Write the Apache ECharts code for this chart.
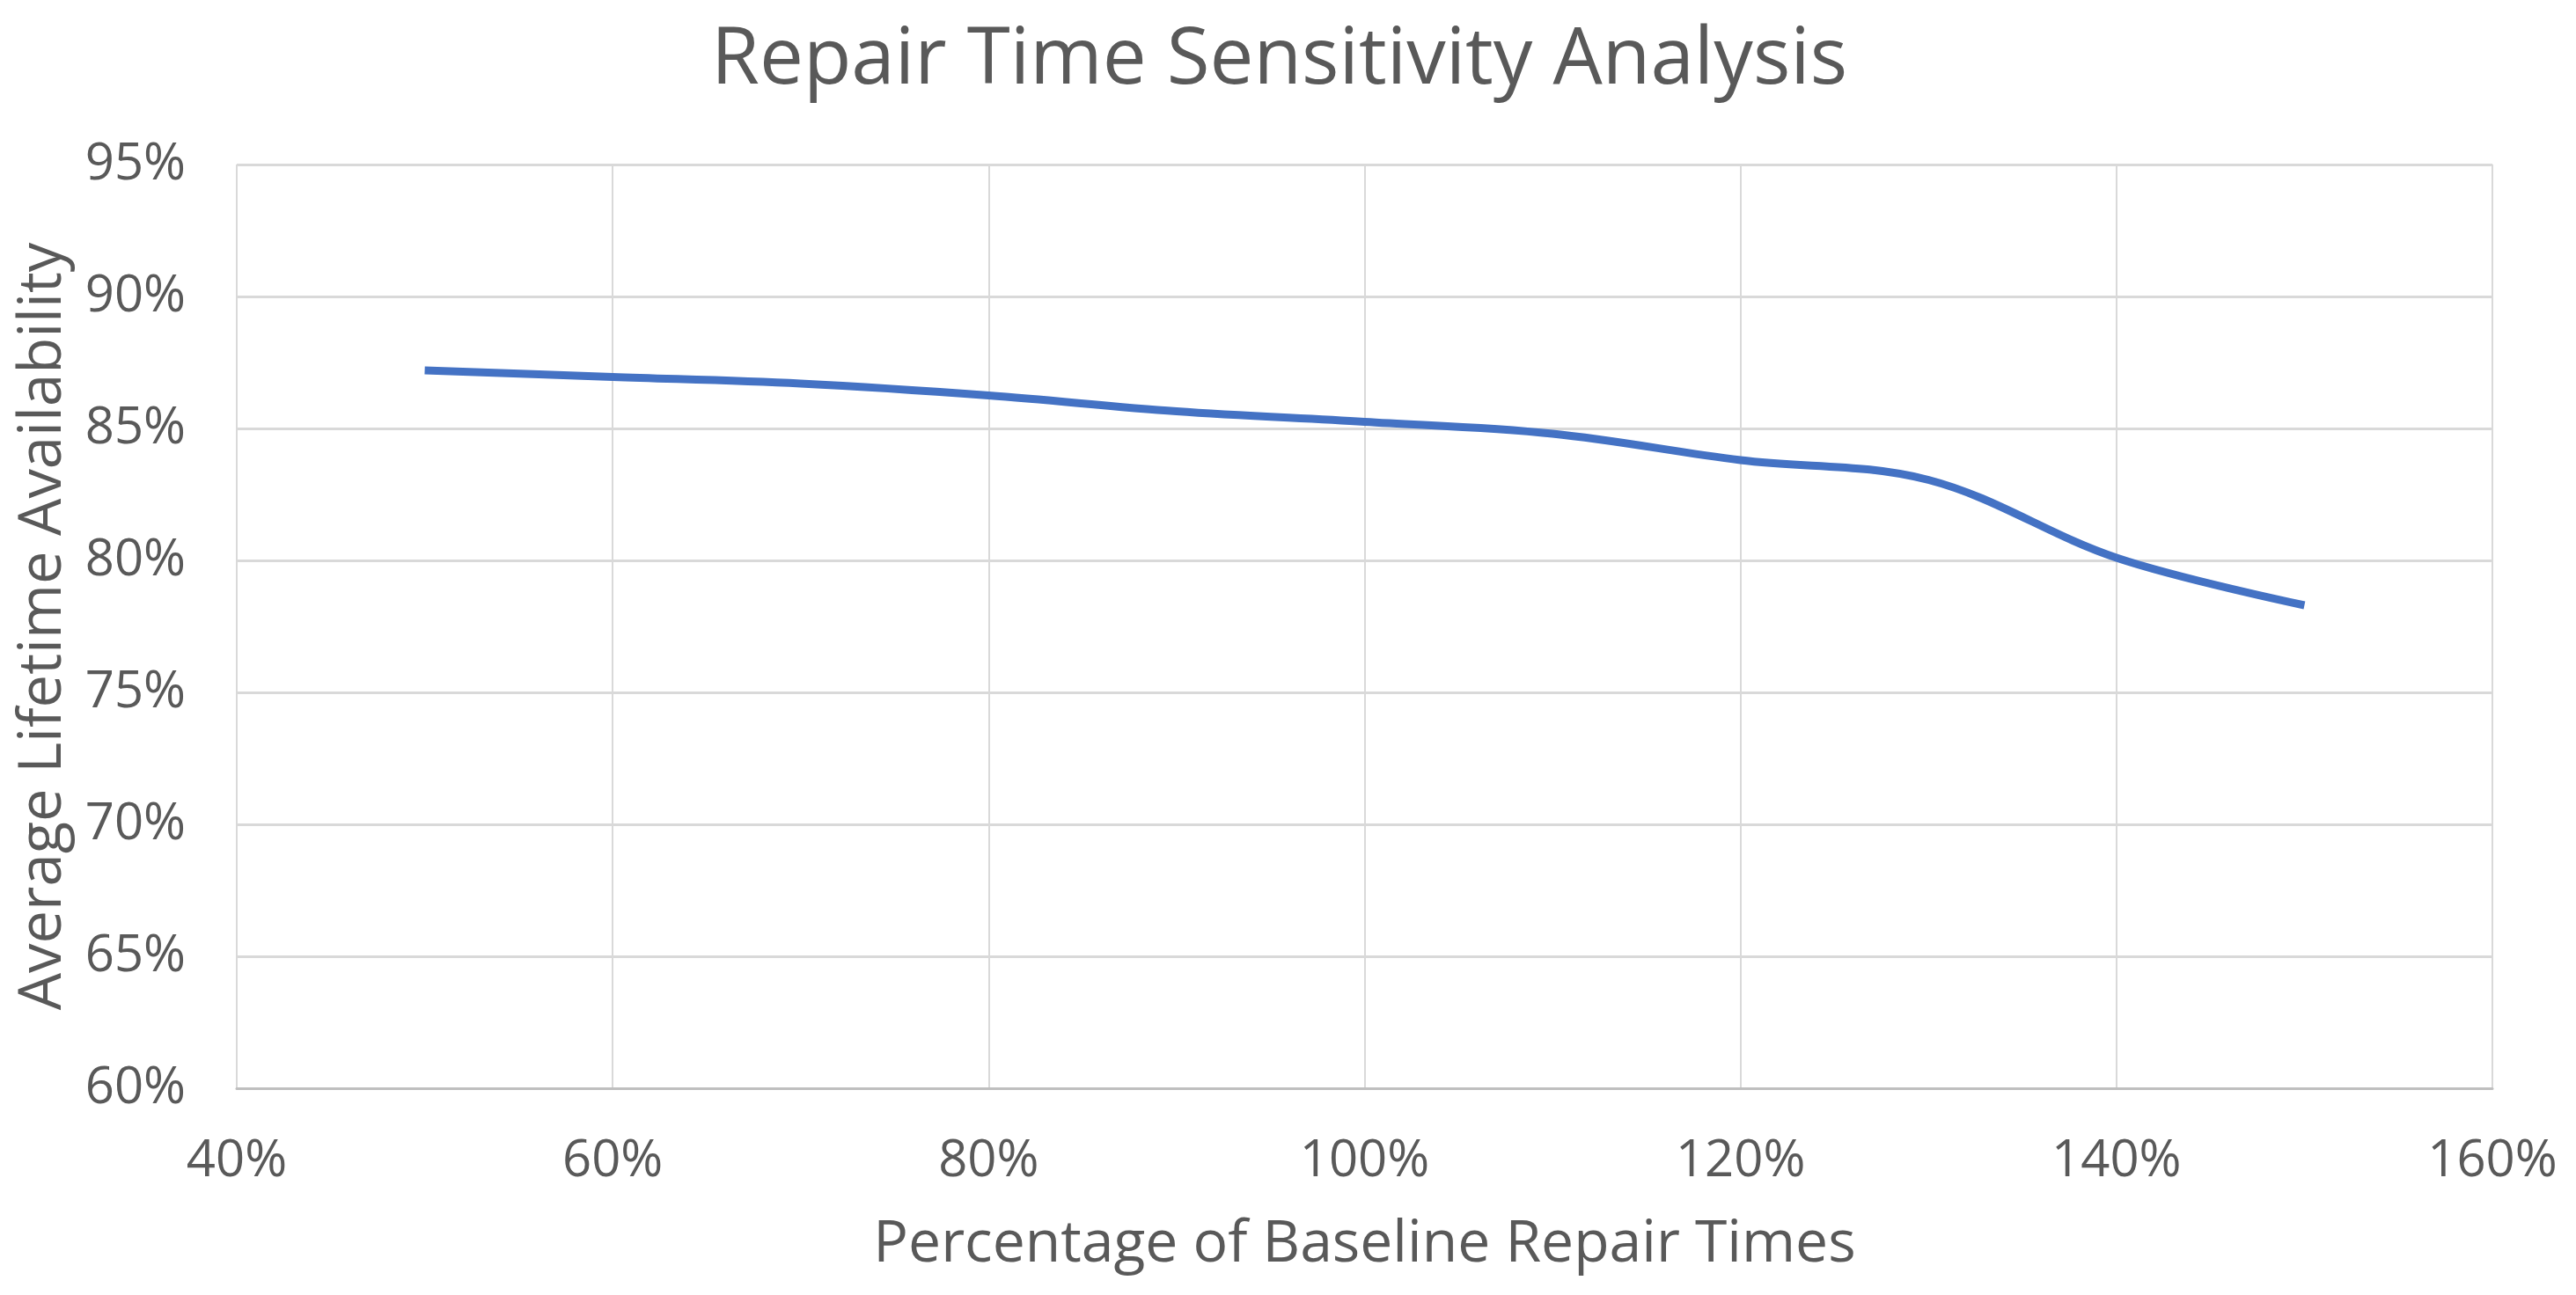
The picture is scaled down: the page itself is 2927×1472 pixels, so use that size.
<!DOCTYPE html>
<html>
<head>
<meta charset="utf-8">
<script src="https://cdn.jsdelivr.net/npm/echarts@6/dist/echarts.min.js"></script>
<style>
html,body{margin:0;padding:0;background:#fff;}
#chart{width:2927px;height:1472px;}
</style>
</head>
<body>
<div id="chart"></div>
<script>
const titleText = 'Repair Time Sensitivity Analysis';
const xAxisTitle = 'Percentage of Baseline Repair Times';
const yAxisTitle = 'Average Lifetime Availability';
const repairPct = [50, 60, 70, 80, 90, 100, 110, 120, 130, 140, 150];
const availability = [87.2, 86.95, 86.7, 86.25, 85.65, 85.25, 84.8, 83.8, 83.05, 80.1, 78.3];

const chart = echarts.init(document.getElementById('chart'));
const textColor = '#595959';
const font = 'Open Sans';
chart.setOption({
  animation: false,
  title: {
    text: titleText,
    left: 803,
    top: 20,
    textStyle: { fontFamily: font, fontWeight: 'normal', fontSize: 89, color: textColor }
  },
  grid: { left: 269, right: 95, top: 187, bottom: 235 },
  xAxis: {
    type: 'value',
    min: 40, max: 160, interval: 20,
    name: xAxisTitle,
    nameLocation: 'middle',
    nameGap: 145,
    nameTextStyle: { fontFamily: font, fontSize: 66, color: textColor },
    axisLine: { show: true, lineStyle: { color: '#bfbfbf', width: 3 } },
    axisTick: { show: false },
    splitLine: { show: true, lineStyle: { color: '#d9d9d9', width: 2 } },
    axisLabel: { formatter: '{value}%', fontFamily: font, fontSize: 58, color: textColor, margin: 54 }
  },
  yAxis: {
    type: 'value',
    min: 60, max: 95, interval: 5,
    name: yAxisTitle,
    nameLocation: 'middle',
    nameGap: 186,
    nameTextStyle: { fontFamily: font, fontSize: 67, color: textColor },
    axisLine: { show: false },
    axisTick: { show: false },
    splitLine: { show: true, lineStyle: { color: '#d9d9d9', width: 3 } },
    axisLabel: { formatter: '{value}%', fontFamily: font, fontSize: 58, color: textColor, margin: 58 }
  },
  series: [{
    type: 'line',
    data: repairPct.map((x, i) => [x, availability[i]]),
    smooth: 0.35,
    showSymbol: false,
    lineStyle: { color: '#4472c4', width: 9, cap: 'butt' }
  }]
});
</script>
</body>
</html>
